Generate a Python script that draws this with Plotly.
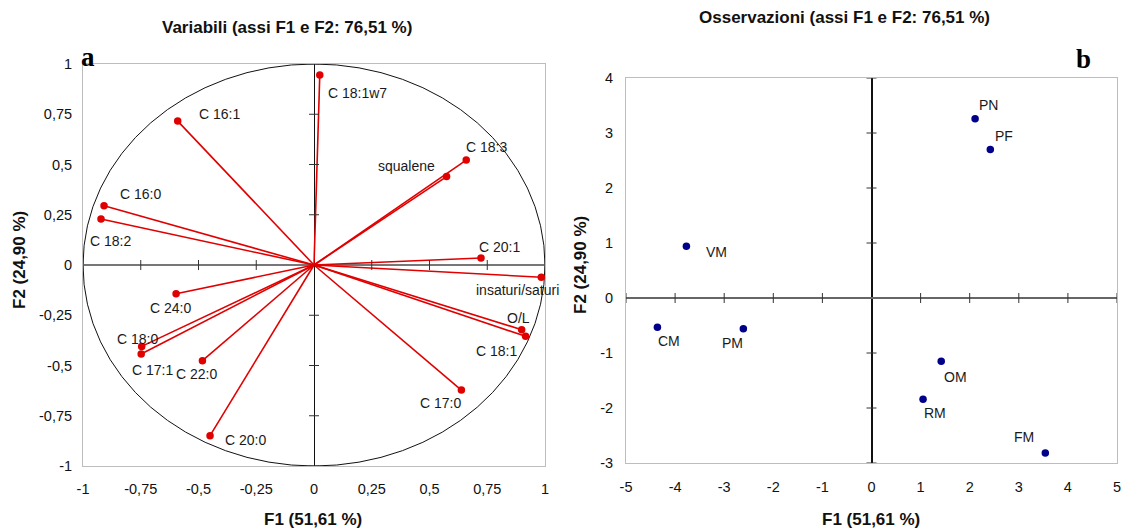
import plotly.graph_objects as go

W, H = 1125, 529

# ---- Panel a: correlation circle (variables) ----
var_names = ["C 16:1", "C 18:1w7", "C 16:0", "C 18:2", "C 18:3", "squalene",
             "C 20:1", "insaturi/saturi", "O/L", "C 18:1", "C 17:0",
             "C 24:0", "C 18:0", "C 17:1", "C 22:0", "C 20:0"]
var_f1 = [-0.59, 0.025, -0.909, -0.922, 0.659, 0.574,
          0.723, 0.984, 0.899, 0.916, 0.638,
          -0.597, -0.746, -0.748, -0.483, -0.450]
var_f2 = [0.716, 0.945, 0.295, 0.229, 0.522, 0.440,
          0.035, -0.061, -0.322, -0.355, -0.622,
          -0.143, -0.405, -0.443, -0.476, -0.849]

# ---- Panel b: observations ----
obs_names = ["VM", "PN", "PF", "CM", "PM", "OM", "RM", "FM"]
obs_f1 = [-3.77, 2.11, 2.42, -4.36, -2.61, 1.42, 1.05, 3.54]
obs_f2 = [0.94, 3.26, 2.70, -0.53, -0.56, -1.15, -1.84, -2.82]

# tick values / labels
a_ticks = [-1, -0.75, -0.5, -0.25, 0, 0.25, 0.5, 0.75, 1]
a_tick_labels = ["-1", "-0,75", "-0,5", "-0,25", "0", "0,25", "0,5", "0,75", "1"]
b_xticks = [-5, -4, -3, -2, -1, 0, 1, 2, 3, 4, 5]
b_xtick_labels = ["-5", "-4", "-3", "-2", "-1", "0", "1", "2", "3", "4", "5"]
b_yticks = [-3, -2, -1, 0, 1, 2, 3, 4]
b_ytick_labels = ["-3", "-2", "-1", "0", "1", "2", "3", "4"]

# label placement (pixel offsets from each point: dx, dy up, anchor)
var_label_offsets = {
    "C 16:1": (19, 7, "left"), "C 18:1w7": (6, -18, "left"),
    "C 16:0": (14, 12, "left"), "C 18:2": (-13, -22, "left"),
    "C 18:3": (-2, 13, "left"), "squalene": (-10, 11, "right"),
    "C 20:1": (-4, 11, "left"), "insaturi/saturi": (-67, -13, "left"),
    "O/L": (-17, 12, "left"), "C 18:1": (-52, -15, "left"),
    "C 17:0": (-43, -13, "left"), "C 24:0": (-28, -14, "left"),
    "C 18:0": (-27, 7, "left"), "C 17:1": (-11, -16, "left"),
    "C 22:0": (-28, -13, "left"), "C 20:0": (13, -4, "left"),
}
obs_label_offsets = {
    "VM": (18, -6), "PN": (2, 14), "PF": (3, 14), "CM": (-1, -14),
    "PM": (-23, -14), "OM": (1, -16), "RM": (-1, -14), "FM": (-33, 16),
}

FONT = "Liberation Sans, Arial, sans-serif"
RED = "#E00000"
NAVY = "#00008B"
FRAME = "#BDBDBD"


def px_x(x):
    return x / W


def px_y(y):
    return 1 - y / H


fig = go.Figure()

# vectors from the origin to each variable
vx, vy = [], []
for a, b in zip(var_f1, var_f2):
    vx += [0, a, None]
    vy += [0, b, None]
fig.add_trace(go.Scatter(x=vx, y=vy, mode="lines", line=dict(color=RED, width=1.6),
                         xaxis="x", yaxis="y", hoverinfo="skip", showlegend=False))
fig.add_trace(go.Scatter(x=var_f1, y=var_f2, mode="markers", text=var_names,
                         marker=dict(color=RED, size=7.5), xaxis="x", yaxis="y",
                         showlegend=False))

fig.add_trace(go.Scatter(x=obs_f1, y=obs_f2, mode="markers", text=obs_names,
                         marker=dict(color=NAVY, size=7.5), xaxis="x2", yaxis="y2",
                         showlegend=False))

annotations = []
for n, a, b in zip(var_names, var_f1, var_f2):
    dx, dy, anc = var_label_offsets[n]
    annotations.append(dict(x=a, y=b, xref="x", yref="y", text=n, showarrow=False,
                            xanchor=anc, yanchor="middle", xshift=dx, yshift=dy,
                            font=dict(family=FONT, size=14, color="#1a1a1a")))
for n, a, b in zip(obs_names, obs_f1, obs_f2):
    dx, dy = obs_label_offsets[n]
    annotations.append(dict(x=a, y=b, xref="x2", yref="y2", text=n, showarrow=False,
                            xanchor="left", yanchor="middle", xshift=dx, yshift=dy,
                            font=dict(family=FONT, size=14, color="#1a1a1a")))

# titles, axis titles and panel letters
bold = dict(family=FONT, size=17, color="#111")
for txt, x, y, rot in [
    ("<b>Variabili (assi F1 e F2: 76,51 %)</b>", 287, 28, 0),
    ("<b>Osservazioni (assi F1 e F2: 76,51 %)</b>", 844, 18, 0),
    ("<b>F1 (51,61 %)</b>", 313, 519, 0),
    ("<b>F1 (51,61 %)</b>", 871, 519, 0),
    ("<b>F2 (24,90 %)</b>", 19, 260, -90),
    ("<b>F2 (24,90 %)</b>", 580, 265, -90),
]:
    annotations.append(dict(x=px_x(x), y=px_y(y), xref="paper", yref="paper", text=txt,
                            showarrow=False, xanchor="center", yanchor="middle",
                            textangle=rot, font=bold))
for txt, x, y in [("a", 88, 57), ("b", 1083, 59)]:
    annotations.append(dict(x=px_x(x), y=px_y(y), xref="paper", yref="paper",
                            text="<b>" + txt + "</b>", showarrow=False,
                            xanchor="center", yanchor="middle",
                            font=dict(family="Liberation Serif, Times New Roman, serif",
                                      size=27, color="#000")))

shapes = [dict(type="circle", xref="x", yref="y", x0=-1, y0=-1, x1=1, y1=1,
               line=dict(color="#111", width=1), layer="below")]

# tick marks crossing the zero lines
for t in a_ticks:
    if t == 0:
        continue
    shapes.append(dict(type="line", xref="x", yref="y", xsizemode="pixel", xanchor=0,
                       x0=-5, x1=5, y0=t, y1=t, line=dict(color="#333", width=1)))
    shapes.append(dict(type="line", xref="x", yref="y", ysizemode="pixel", yanchor=0,
                       y0=-5, y1=5, x0=t, x1=t, line=dict(color="#333", width=1)))
for t in b_yticks:
    if t == 0:
        continue
    shapes.append(dict(type="line", xref="x2", yref="y2", xsizemode="pixel", xanchor=0,
                       x0=-5, x1=5, y0=t, y1=t, line=dict(color="#333", width=1)))
for t in b_xticks:
    if t == 0:
        continue
    shapes.append(dict(type="line", xref="x2", yref="y2", ysizemode="pixel", yanchor=0,
                       y0=-5, y1=5, x0=t, x1=t, line=dict(color="#333", width=1)))

axis_common = dict(showgrid=False, showline=True, mirror=True, linecolor=FRAME,
                   linewidth=1, ticks="", automargin=False,
                   tickfont=dict(family=FONT, size=14.5, color="#111"),
                   fixedrange=True)

fig.update_layout(
    width=W, height=H, margin=dict(l=0, r=0, t=0, b=0, autoexpand=False),
    paper_bgcolor="white", plot_bgcolor="white",
    xaxis=dict(domain=[px_x(83), px_x(545)], range=[-1, 1], anchor="y",
               tickvals=a_ticks, ticktext=a_tick_labels, ticklabelstandoff=10,
               zeroline=True, zerolinecolor="#111", zerolinewidth=1, **axis_common),
    yaxis=dict(domain=[px_y(466), px_y(64)], range=[-1, 1], anchor="x",
               tickvals=a_ticks, ticktext=a_tick_labels, ticklabelstandoff=7,
               zeroline=True, zerolinecolor="#777", zerolinewidth=2, **axis_common),
    xaxis2=dict(domain=[px_x(626), px_x(1117)], range=[-5, 5], anchor="y2",
                tickvals=b_xticks, ticktext=b_xtick_labels, ticklabelstandoff=11,
                zeroline=True, zerolinecolor="#111", zerolinewidth=1.5, **axis_common),
    yaxis2=dict(domain=[px_y(463), px_y(78)], range=[-3, 4], anchor="x2",
                tickvals=b_yticks, ticktext=b_ytick_labels, ticklabelstandoff=9,
                zeroline=True, zerolinecolor="#666", zerolinewidth=1.5, **axis_common),
    annotations=annotations, shapes=shapes, showlegend=False,
)

fig.write_html("out.html")
